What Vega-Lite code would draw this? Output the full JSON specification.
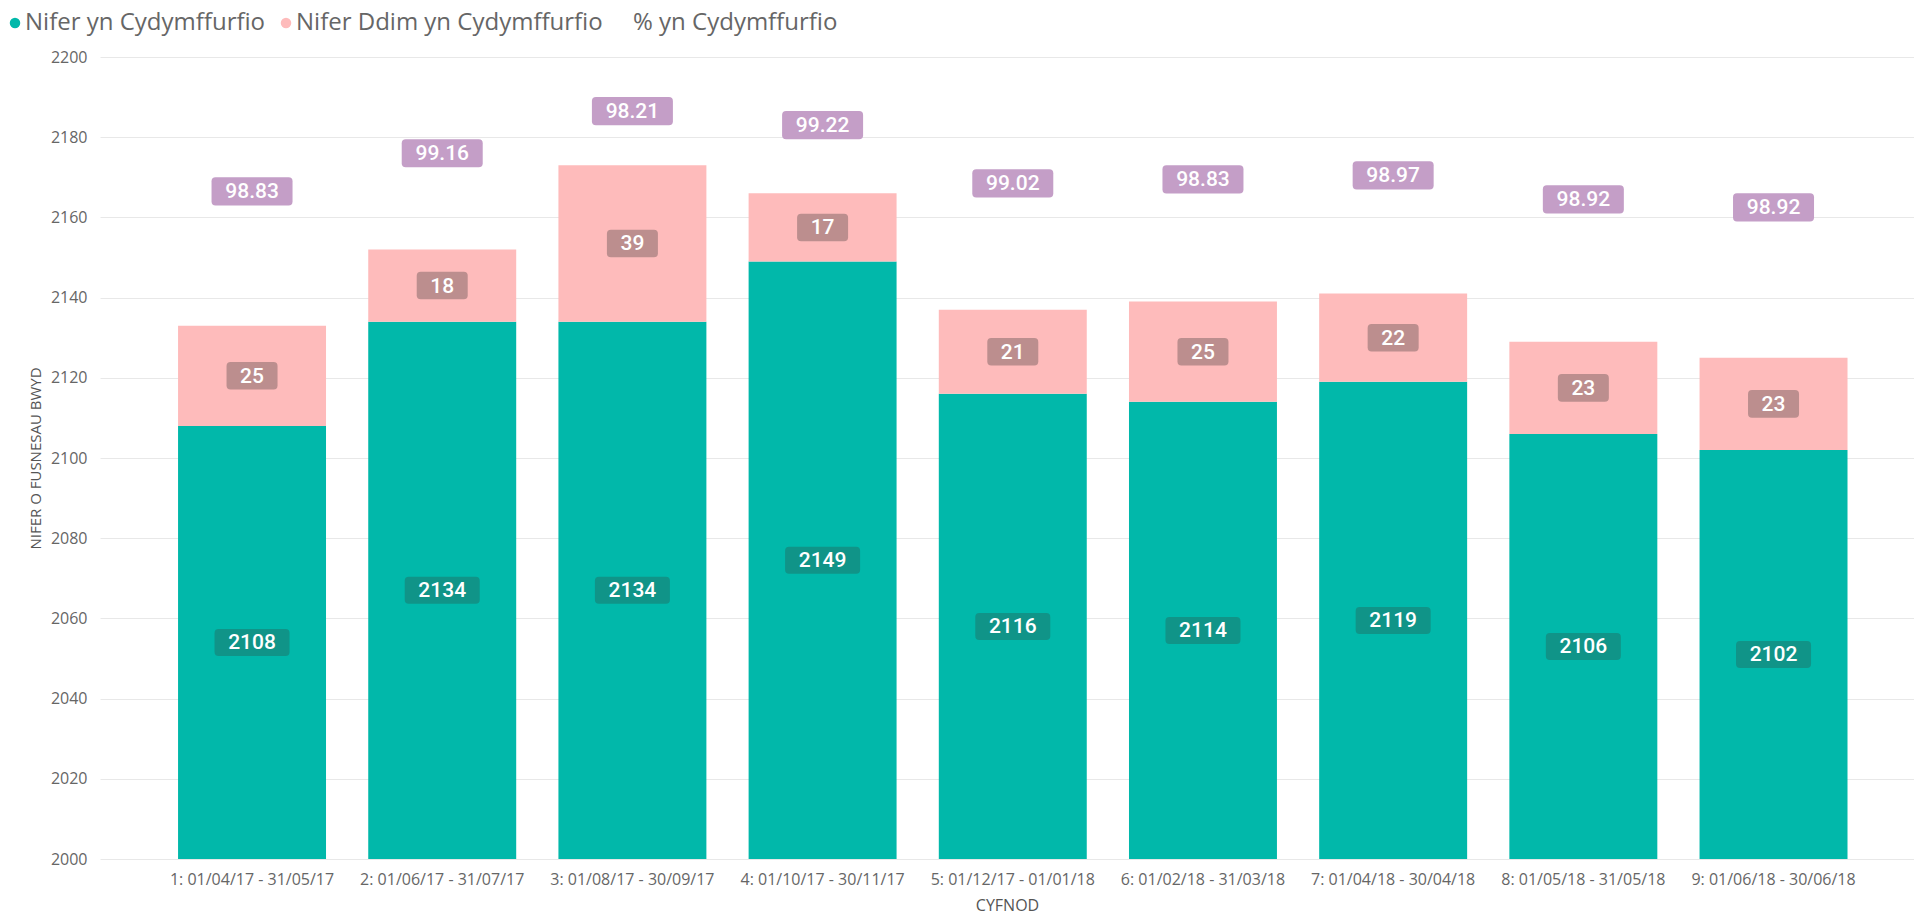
{
  "$schema": "https://vega.github.io/schema/vega-lite/v6.json",
  "width": 1814,
  "height": 802,
  "autosize": {"type": "none"},
  "padding": {"left": 100, "top": 57, "right": 0, "bottom": 59},
  "background": "#ffffff",
  "config": {
    "view": {"stroke": null},
    "legend": {"padding": 0}
  },
  "data": {
    "values": [
      {"Cyfnod": "1: 01/04/17 - 31/05/17", "yn": 2108, "ddim": 25, "pct": 98.83},
      {"Cyfnod": "2: 01/06/17 - 31/07/17", "yn": 2134, "ddim": 18, "pct": 99.16},
      {"Cyfnod": "3: 01/08/17 - 30/09/17", "yn": 2134, "ddim": 39, "pct": 98.21},
      {"Cyfnod": "4: 01/10/17 - 30/11/17", "yn": 2149, "ddim": 17, "pct": 99.22},
      {"Cyfnod": "5: 01/12/17 - 01/01/18", "yn": 2116, "ddim": 21, "pct": 99.02},
      {"Cyfnod": "6: 01/02/18 - 31/03/18", "yn": 2114, "ddim": 25, "pct": 98.83},
      {"Cyfnod": "7: 01/04/18 - 30/04/18", "yn": 2119, "ddim": 22, "pct": 98.97},
      {"Cyfnod": "8: 01/05/18 - 31/05/18", "yn": 2106, "ddim": 23, "pct": 98.92},
      {"Cyfnod": "9: 01/06/18 - 30/06/18", "yn": 2102, "ddim": 23, "pct": 98.92}
    ]
  },
  "transform": [
    {"calculate": "datum.yn + datum.ddim", "as": "total"},
    {"calculate": "(datum.yn + 2000) / 2", "as": "ynMid"},
    {"calculate": "datum.yn + datum.ddim / 2", "as": "ddimMid"},
    {"calculate": "(datum.yn + datum.ddim + 2200) / 2", "as": "pctPos"}
  ],
  "encoding": {
    "x": {
      "field": "Cyfnod",
      "type": "nominal",
      "sort": null,
      "scale": {"paddingInner": 0.222, "paddingOuter": 0.38, "align": 0.54},
      "axis": {
        "title": "CYFNOD",
        "labelAngle": 0,
        "labelFont": "Open Sans",
        "labelFontSize": 16,
        "labelColor": "#666666",
        "labelLimit": 400,
        "labelPadding": 12,
        "domain": false,
        "ticks": false,
        "titleFont": "Open Sans",
        "titleFontSize": 16,
        "titleFontWeight": "normal",
        "titleColor": "#555555",
        "titleY": 46,
        "titleBaseline": "middle"
      }
    }
  },
  "layer": [
    {
      "mark": {"type": "bar"},
      "encoding": {
        "y": {
          "field": "yn",
          "type": "quantitative",
          "scale": {"domain": [2000, 2200], "zero": false, "nice": false},
          "axis": {
            "values": [2000, 2020, 2040, 2060, 2080, 2100, 2120, 2140, 2160, 2180, 2200],
            "format": "d",
            "title": "NIFER O FUSNESAU BWYD",
            "labelFont": "Open Sans",
            "labelFontSize": 16,
            "labelColor": "#666666",
            "labelPadding": 13,
            "domain": false,
            "ticks": false,
            "grid": true,
            "gridColor": "#E8E8E8",
            "gridWidth": 1,
            "titleFont": "Open Sans",
            "titleFontSize": 15,
            "titleFontWeight": "normal",
            "titleColor": "#555555",
            "titleX": -65,
            "titleY": 401,
            "titleBaseline": "middle",
            "titleAlign": "center"
          }
        },
        "y2": {"datum": 2000},
        "color": {
          "datum": "Nifer yn Cydymffurfio",
          "scale": {
            "domain": ["Nifer yn Cydymffurfio", "Nifer Ddim yn Cydymffurfio", "% yn Cydymffurfio"],
            "range": ["#01B8AA", "#FEBBBB", "rgba(0,0,0,0)"]
          },
          "legend": {
            "title": null,
            "orient": "none",
            "direction": "horizontal",
            "legendX": -97,
            "legendY": -46,
            "symbolType": "circle",
            "symbolSize": 110,
            "symbolStrokeWidth": 0,
            "labelFont": "Open Sans",
            "labelFontSize": 24,
            "labelColor": "#666666",
            "labelOffset": -2,
            "columnPadding": 8,
            "labelLimit": 500
          }
        }
      }
    },
    {
      "mark": {"type": "bar"},
      "encoding": {
        "y": {"field": "yn", "type": "quantitative"},
        "y2": {"field": "total"},
        "color": {"datum": "Nifer Ddim yn Cydymffurfio"}
      }
    },
    {
      "mark": {
        "type": "point",
        "filled": true,
        "opacity": 1,
        "size": 400,
        "color": "#109488",
        "strokeWidth": 0,
        "shape": "M-3.35,-1.35H3.35Q3.75,-1.35 3.75,-0.95V0.95Q3.75,1.35 3.35,1.35H-3.35Q-3.75,1.35 -3.75,0.95V-0.95Q-3.75,-1.35 -3.35,-1.35Z"
      },
      "encoding": {"y": {"field": "ynMid", "type": "quantitative"}}
    },
    {
      "mark": {"type": "text", "color": "#FFFFFF", "font": "Roboto", "fontSize": 21, "fontWeight": 500, "baseline": "middle", "align": "center", "dy": 1},
      "encoding": {"y": {"field": "ynMid", "type": "quantitative"}, "text": {"field": "yn", "type": "quantitative", "format": "d"}}
    },
    {
      "mark": {
        "type": "point",
        "filled": true,
        "opacity": 1,
        "size": 400,
        "color": "#BC8E8E",
        "strokeWidth": 0,
        "shape": "M-2.15,-1.38H2.15Q2.55,-1.38 2.55,-0.98V0.98Q2.55,1.38 2.15,1.38H-2.15Q-2.55,1.38 -2.55,0.98V-0.98Q-2.55,-1.38 -2.15,-1.38Z"
      },
      "encoding": {"y": {"field": "ddimMid", "type": "quantitative"}}
    },
    {
      "mark": {"type": "text", "color": "#FFFFFF", "font": "Roboto", "fontSize": 21, "fontWeight": 500, "baseline": "middle", "align": "center", "dy": 1},
      "encoding": {"y": {"field": "ddimMid", "type": "quantitative"}, "text": {"field": "ddim", "type": "quantitative", "format": "d"}}
    },
    {
      "mark": {
        "type": "point",
        "filled": true,
        "opacity": 1,
        "size": 400,
        "color": "#C49EC7",
        "strokeWidth": 0,
        "shape": "M-3.65,-1.41H3.65Q4.05,-1.41 4.05,-1.01V1.01Q4.05,1.41 3.65,1.41H-3.65Q-4.05,1.41 -4.05,1.01V-1.01Q-4.05,-1.41 -3.65,-1.41Z"
      },
      "encoding": {"y": {"field": "pctPos", "type": "quantitative"}}
    },
    {
      "mark": {"type": "text", "color": "#FFFFFF", "font": "Roboto", "fontSize": 21, "fontWeight": 500, "baseline": "middle", "align": "center", "dy": 1},
      "encoding": {"y": {"field": "pctPos", "type": "quantitative"}, "text": {"field": "pct", "type": "quantitative", "format": ".2f"}}
    }
  ]
}
